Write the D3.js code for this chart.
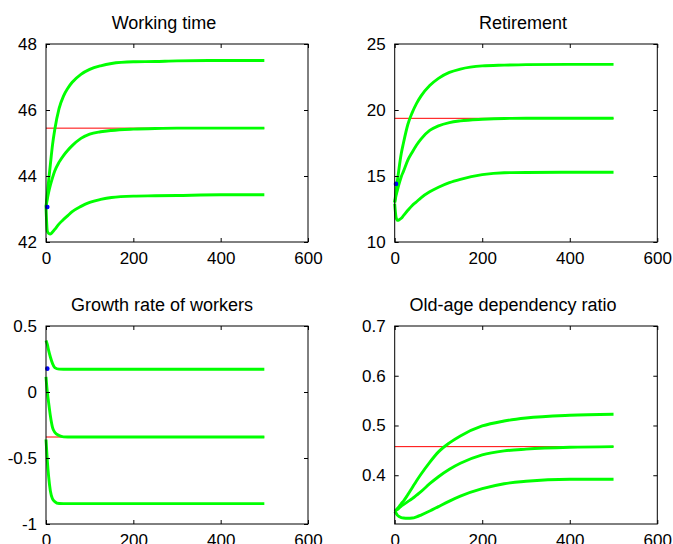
<!DOCTYPE html>
<html>
<head>
<meta charset="utf-8">
<script src="https://d3js.org/d3.v7.min.js"></script>
<style>
  body { margin: 0; background: #fff; }
  svg { display: block; }
  .tick-label { font-family: "Liberation Sans", Arial, Helvetica, sans-serif; font-size: 17px; fill: #000; }
  .title { font-family: "Liberation Sans", Arial, Helvetica, sans-serif; font-size: 18px; fill: #000; }
</style>
</head>
<body>
<svg width="673" height="544"></svg>
<script>
var tPoints = [0, 3, 6, 10, 15, 20, 30, 40, 50, 60, 80, 100, 125, 150, 200, 250, 300, 400, 500];
var xTicks = [0, 200, 400, 600];

// Working time
var workHigh = [43.06, 43.45, 43.85, 44.35, 44.95, 45.4, 46.05, 46.42, 46.66, 46.84, 47.08, 47.23, 47.34, 47.41, 47.46, 47.47, 47.49, 47.5, 47.5];
var workMid  = [43.06, 43.3, 43.5, 43.72, 43.95, 44.15, 44.42, 44.62, 44.78, 44.92, 45.14, 45.27, 45.34, 45.38, 45.42, 45.44, 45.45, 45.45, 45.45];
var workLow  = [43.06, 42.33, 42.26, 42.24, 42.3, 42.38, 42.55, 42.68, 42.8, 42.92, 43.08, 43.2, 43.29, 43.35, 43.39, 43.4, 43.41, 43.43, 43.43];
var workRef = 45.45;
var workStart = [3, 43.06];
var workTicks = [42, 44, 46, 48];

// Retirement
var retHigh = [13.0, 13.8, 14.6, 15.6, 16.7, 17.5, 18.9, 19.8, 20.5, 21.05, 21.85, 22.4, 22.85, 23.1, 23.34, 23.4, 23.44, 23.46, 23.46];
var retMid  = [13.0, 13.5, 13.9, 14.4, 14.95, 15.35, 16.2, 16.8, 17.35, 17.8, 18.45, 18.8, 19.05, 19.18, 19.3, 19.36, 19.37, 19.37, 19.37];
var retLow  = [12.9, 11.9, 11.65, 11.68, 11.8, 12.0, 12.4, 12.77, 13.05, 13.35, 13.8, 14.15, 14.5, 14.75, 15.1, 15.25, 15.27, 15.28, 15.28];
var retRef = 19.37;
var retStart = [3, 14.4];
var retTicks = [10, 15, 20, 25];

// Growth rate of workers
var growHigh = [0.39, 0.36, 0.315, 0.265, 0.215, 0.185, 0.173, 0.172, 0.172, 0.172, 0.172, 0.172, 0.172, 0.172, 0.172, 0.172, 0.172, 0.172, 0.172];
var growMid  = [0.114, 0.0, -0.08, -0.18, -0.27, -0.305, -0.33, -0.34, -0.341, -0.341, -0.341, -0.341, -0.341, -0.341, -0.341, -0.341, -0.341, -0.341, -0.341];
var growLow  = [-0.36, -0.52, -0.64, -0.75, -0.81, -0.83, -0.845, -0.846, -0.846, -0.846, -0.846, -0.846, -0.846, -0.846, -0.846, -0.846, -0.846, -0.846, -0.846];
var growRef = -0.341;
var growStart = [3, 0.177];
var growTicks = [-1, -0.5, 0, 0.5];

// Old-age dependency ratio
var oldHigh = [0.3276, 0.33, 0.333, 0.337, 0.343, 0.348, 0.361, 0.375, 0.389, 0.402, 0.426, 0.447, 0.465, 0.479, 0.499, 0.509, 0.515, 0.5205, 0.5225];
var oldMid  = [0.3276, 0.329, 0.331, 0.334, 0.338, 0.341, 0.347, 0.353, 0.36, 0.367, 0.383, 0.397, 0.412, 0.424, 0.441, 0.449, 0.4525, 0.4562, 0.4575];
var oldLow  = [0.3276, 0.324, 0.32, 0.317, 0.315, 0.314, 0.3135, 0.314, 0.3165, 0.32, 0.328, 0.337, 0.348, 0.358, 0.373, 0.383, 0.388, 0.392, 0.392];
var oldRef = 0.4575;
var oldTicks = [0.4, 0.5, 0.6, 0.7];

var svg = d3.select("svg");

// panel layout
var panels = [
  {title: "Working time", x0: 46, x1: 308, y0: 44, y1: 242, titleX: 164, yDom: [42, 48], yTicks: workTicks,
   series: [workHigh, workMid, workLow], ref: workRef, start: workStart},
  {title: "Retirement", x0: 394.7, x1: 657.3, y0: 44, y1: 242, titleX: 523, yDom: [10, 25], yTicks: retTicks,
   series: [retHigh, retMid, retLow], ref: retRef, start: retStart},
  {title: "Growth rate of workers", x0: 46, x1: 308, y0: 326, y1: 524, titleX: 162, yDom: [-1, 0.5], yTicks: growTicks,
   series: [growHigh, growMid, growLow], ref: growRef, start: growStart},
  {title: "Old-age dependency ratio", x0: 394.7, x1: 657.3, y0: 326, y1: 524, titleX: 513, yDom: [0.302, 0.7], yTicks: oldTicks,
   series: [oldHigh, oldMid, oldLow], ref: oldRef, start: null}
];

panels.forEach(function(p) {
  var x = d3.scaleLinear().domain([0, 600]).range([p.x0, p.x1]);
  var y = d3.scaleLinear().domain(p.yDom).range([p.y1, p.y0]);
  var g = svg.append("g");

  // green paths
  var line = d3.line()
    .x(function(d, i) { return x(tPoints[i]); })
    .y(function(d) { return y(d); })
    .curve(d3.curveMonotoneX);

  // red steady state line
  g.append("line")
    .attr("x1", x(0)).attr("x2", x(500))
    .attr("y1", y(p.ref)).attr("y2", y(p.ref))
    .attr("stroke", "#ff0000").attr("stroke-width", 1);

  p.series.forEach(function(s) {
    g.append("path")
      .attr("d", line(s))
      .attr("fill", "none")
      .attr("stroke", "#00ff00")
      .attr("stroke-width", 2.9)
      .attr("stroke-linejoin", "round");
  });

  if (p.start) {
    g.append("circle")
      .attr("cx", x(p.start[0])).attr("cy", y(p.start[1]))
      .attr("r", 2.3).attr("fill", "#0000ff");
  }

  // axes (box with inward ticks on all sides)
  var xAx = d3.axisBottom(x).tickValues(xTicks).tickSizeInner(-4).tickSizeOuter(0).tickPadding(10).tickFormat(d3.format("d"));
  var xAxTop = d3.axisTop(x).tickValues(xTicks).tickSizeInner(-4).tickSizeOuter(0).tickFormat("");
  var yAx = d3.axisLeft(y).tickValues(p.yTicks).tickSizeInner(-4).tickSizeOuter(0).tickPadding(9).tickFormat(function(d) { return String(d); });
  var yAxRight = d3.axisRight(y).tickValues(p.yTicks).tickSizeInner(-4).tickSizeOuter(0).tickFormat("");

  g.append("g").attr("transform", "translate(0," + p.y1 + ")").call(xAx);
  g.append("g").attr("transform", "translate(0," + p.y0 + ")").call(xAxTop);
  g.append("g").attr("transform", "translate(" + p.x0 + ",0)").call(yAx);
  g.append("g").attr("transform", "translate(" + p.x1 + ",0)").call(yAxRight);

  g.selectAll(".domain").remove();
  g.selectAll(".tick line").attr("stroke", "#000");
  g.selectAll(".tick text").attr("class", "tick-label").attr("font-size", null).attr("font-family", null);

  g.append("rect")
    .attr("x", p.x0).attr("y", p.y0)
    .attr("width", p.x1 - p.x0).attr("height", p.y1 - p.y0)
    .attr("fill", "none").attr("stroke", "#000").attr("stroke-width", 1);

  g.append("text")
    .attr("class", "title")
    .attr("x", p.titleX).attr("y", p.y0 - 15)
    .attr("text-anchor", "middle")
    .text(p.title);
});
</script>
</body>
</html>
